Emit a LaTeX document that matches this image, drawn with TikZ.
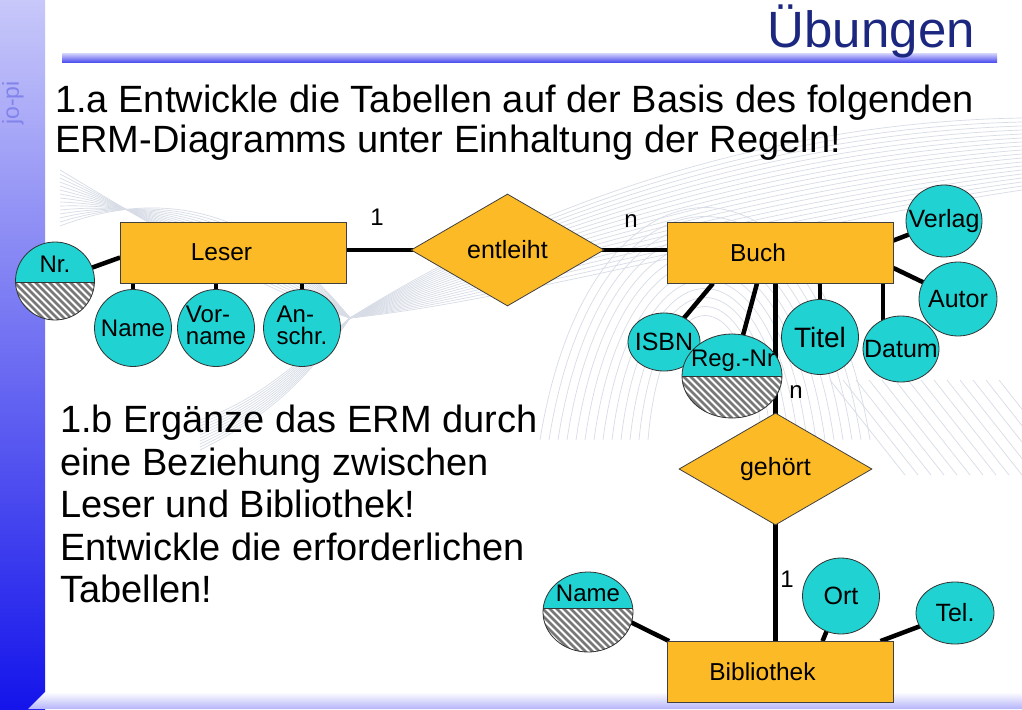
\documentclass[tikz,border=0pt]{standalone}
\usepackage{fontspec}
\setmainfont{Liberation Sans}
\usetikzlibrary{shapes.geometric}
\definecolor{erorange}{RGB}{252,186,38}
\definecolor{ercyan}{RGB}{32,210,210}
\definecolor{titleblue}{RGB}{28,40,128}
\definecolor{barlight}{RGB}{200,200,250}
\definecolor{bardark}{RGB}{20,20,235}
\definecolor{hatchgray}{RGB}{120,120,120}
\definecolor{jopiblue}{RGB}{130,130,235}
\definecolor{wmgray}{RGB}{215,220,230}
\newcommand\zerow[1]{\makebox[0pt]{#1}}
\newcommand\twolines[2]{\makebox[0pt]{\begin{tabular}{@{}l@{}}#1\\[-3pt]#2\end{tabular}}}
\pgfdeclarelayer{bg}
\pgfdeclarelayer{conn}
\pgfsetlayers{bg,conn,main}
\tikzset{
  entity/.style={rectangle, draw=black!75, fill=erorange, line width=0.8pt,
    minimum width=226pt, minimum height=61pt, inner sep=0pt},
  relation/.style={diamond, draw=black!75, fill=erorange, line width=0.8pt,
    minimum width=193pt, minimum height=112pt, inner sep=0pt, aspect=1.72,
    font=\fontsize{25}{26}\selectfont},
  attr/.style={ellipse, draw=black!80, fill=ercyan, line width=0.8pt,
    inner sep=0pt, font=\fontsize{25}{26}\selectfont},
  leserattr/.style={attr, minimum width=77pt, minimum height=77pt,
    font=\fontsize{24}{25}\selectfont},
  keyattr/.style={attr, path picture={
      \begin{scope}
        \clip ([yshift=#1]path picture bounding box.west) rectangle (path picture bounding box.south east);
        \fill[white] (path picture bounding box.south west) rectangle (path picture bounding box.north east);
        \foreach \k in {-16,...,16}
          \draw[hatchgray, line width=2.6pt] ([xshift=\k*7pt-60pt, yshift=60pt]path picture bounding box.center) -- ++(120pt,-120pt);
      \end{scope}
      \draw[black!80, line width=0.8pt] ([yshift=#1]path picture bounding box.west) -- ([yshift=#1]path picture bounding box.east);
    }},
  conn/.style={line width=4.5pt, black},
  card/.style={font=\fontsize{24}{26}\selectfont},
  etext/.style={font=\fontsize{24.5}{26}\selectfont},
  keytext/.style={font=\fontsize{24}{26}\selectfont, inner sep=0pt},
  bigtext/.style={font=\fontsize{38}{40}\selectfont, anchor=base west, inner sep=0pt},
  wm/.style={wmgray, line width=0.7pt}
}
\begin{document}
\begin{tikzpicture}[x=1pt,y=-1pt]
\useasboundingbox (0,0) rectangle (1022,709);
\begin{pgfonlayer}{bg}
  \fill[white] (0,0) rectangle (1022,709);
  % faint watermark swirl
  \foreach \i in {0,...,18}
    \draw[wm] (350,318) .. controls (520,300-\i*5) and (760,230-\i*6) .. (1022,190-\i*4);
  \foreach \i in {0,...,14}
    \draw[wm] (350,318) .. controls (260,290-\i*6) and (160,230-\i*3) .. (60,170+\i*4);
  \foreach \i in {0,...,10}
    \draw[wm] (350,318) .. controls (300,360+\i*3) and (260,400+\i*2) .. (200,420+\i*3);
  \foreach \i in {0,...,12}
    \draw[wm] (540+\i*9,440) .. controls (590+\i*6,130+\i*12) and (820-\i*6,130+\i*12) .. (870-\i*9,440);
  \foreach \i in {0,...,13}
    \draw[wm] (830+\i*13,380) -- ++(75,95);
  % frame
  \shade[top color=barlight, bottom color=bardark] (0,0) rectangle (45,709);
  \shade[top color=white, bottom color=barlight!90!blue] (45,692) -- (1022,692) -- (1022,709) -- (28,709) -- cycle;
  \shade[top color=barlight, bottom color=bardark!80!white] (62,54) rectangle (997,63);
\end{pgfonlayer}

% title and texts
\node[font=\fontsize{51}{54}\selectfont, text=titleblue, anchor=base east, inner sep=0pt] (title) at (975,48) {Übungen};
\node[rotate=90, font=\fontsize{23}{24}\selectfont, text=jopiblue, inner sep=0pt] (jopi) at (13,103) {jo-pi};
\node[bigtext] (t1) at (55,112) {1.a Entwickle die Tabellen auf der Basis des folgenden};
\node[bigtext] (t2) at (55,152) {ERM-Diagramms unter Einhaltung der Regeln!};
\node[bigtext] (b1) at (60,432) {1.b Ergänze das ERM durch};
\node[bigtext] (b2) at (60,475) {eine Beziehung zwischen};
\node[bigtext] (b3) at (60,517) {Leser und Bibliothek!};
\node[bigtext] (b4) at (60,560) {Entwickle die erforderlichen};
\node[bigtext] (b5) at (60,602) {Tabellen!};

% entities and relations
\node[entity, label={[etext, xshift=-12pt]center:Leser}] (leser) at (233.5,252.5) {};
\node[entity, label={[etext, xshift=-22pt]center:Buch}] (buch) at (780,252.5) {};
\node[entity, label={[etext, xshift=-18pt]center:Bibliothek}] (bib) at (780.5,672) {};
\node[relation] (entleiht) at (507.5,250) {entleiht};
\node[relation] (gehoert) at (775.5,469) {gehört};

% attributes of Leser
\node[keyattr=-1pt, minimum width=79pt, minimum height=78pt] (nr) at (55,281) {};
\node[leserattr] (lname) at (133,328) {\zerow{Name}};
\node[leserattr] (vname) at (216,328) {\twolines{Vor-}{name}};
\node[leserattr] (anschr) at (302,328) {\twolines{An-}{schr.}};

% attributes of Buch
\node[attr, minimum width=76pt, minimum height=72pt] (verlag) at (944,221) {\zerow{Verlag}};
\node[attr, minimum width=78pt, minimum height=74pt] (autor) at (958,299) {\zerow{Autor}};
\node[attr, minimum width=76pt, minimum height=66pt] (datum) at (901,349) {\zerow{Datum}};
\node[attr, minimum width=77pt, minimum height=75pt, font=\fontsize{28}{30}\selectfont] (titel) at (820,337) {\zerow{Titel}};
\node[attr, minimum width=72pt, minimum height=58pt] (isbn) at (664,342) {\zerow{ISBN}};
\node[keyattr=0pt, minimum width=100pt, minimum height=84pt] (regnr) at (732,376) {};

% attributes of Bibliothek
\node[keyattr=4pt, minimum width=90pt, minimum height=80pt] (bname) at (588,612) {};
\node[attr, minimum width=77pt, minimum height=76pt] (ort) at (841,596) {\zerow{Ort}};
\node[attr, minimum width=78pt, minimum height=62pt] (tel) at (955,613) {\zerow{Tel.}};

% texts in key attributes
\node[keytext] (nrlabel) at (55,264) {Nr.};
\node[keytext] (reglabel) at (733,361) {Reg.-Nr};
\node[keytext] (bnamelabel) at (588,593) {Name};

% cardinalities
\node[card] (c1) at (377,217) {1};
\node[card] (c2) at (631,221) {n};
\node[card] (c3) at (796,392) {n};
\node[card] (c4) at (787,579) {1};

% connectors
\begin{pgfonlayer}{conn}
  \draw[conn] (entleiht.center) -- (entleiht.center -| leser.center);
  \draw[conn] (entleiht.center) -- (entleiht.center -| buch.center);
  \draw[conn] (nr.center) -- ([yshift=-5pt]leser.west);
  \draw[conn] (lname.center) -- (lname.center |- leser.center);
  \draw[conn] (vname.center) -- (vname.center |- leser.center);
  \draw[conn] (anschr.center) -- (anschr.center |- leser.center);
  \draw[conn] (isbn.center) -- ([xshift=-67pt]buch.south);
  \draw[conn] (regnr.center) -- ([xshift=-23pt]buch.south);
  \draw[conn] (gehoert.center) -- (gehoert.center |- buch.center);
  \draw[conn] (titel.center) -- (titel.center |- buch.center);
  \draw[conn] ([xshift=103pt]buch.center) -- ([xshift=103pt]buch.south |- datum.center);
  \draw[conn] ([yshift=-15.5pt]buch.east) -- (autor.center);
  \draw[conn] ([yshift=12pt]buch.east) -- (verlag.center);
  \draw[conn] (gehoert.center) -- (gehoert.center |- bib.center);
  \draw[conn] ([yshift=11pt]bname.center) -- ([xshift=2pt]bib.north west);
  \draw[conn] (ort.center) -- ([xshift=42pt]bib.north);
  \draw[conn] (tel.center) -- ([xshift=100pt]bib.north);
\end{pgfonlayer}
\end{tikzpicture}
\end{document}
